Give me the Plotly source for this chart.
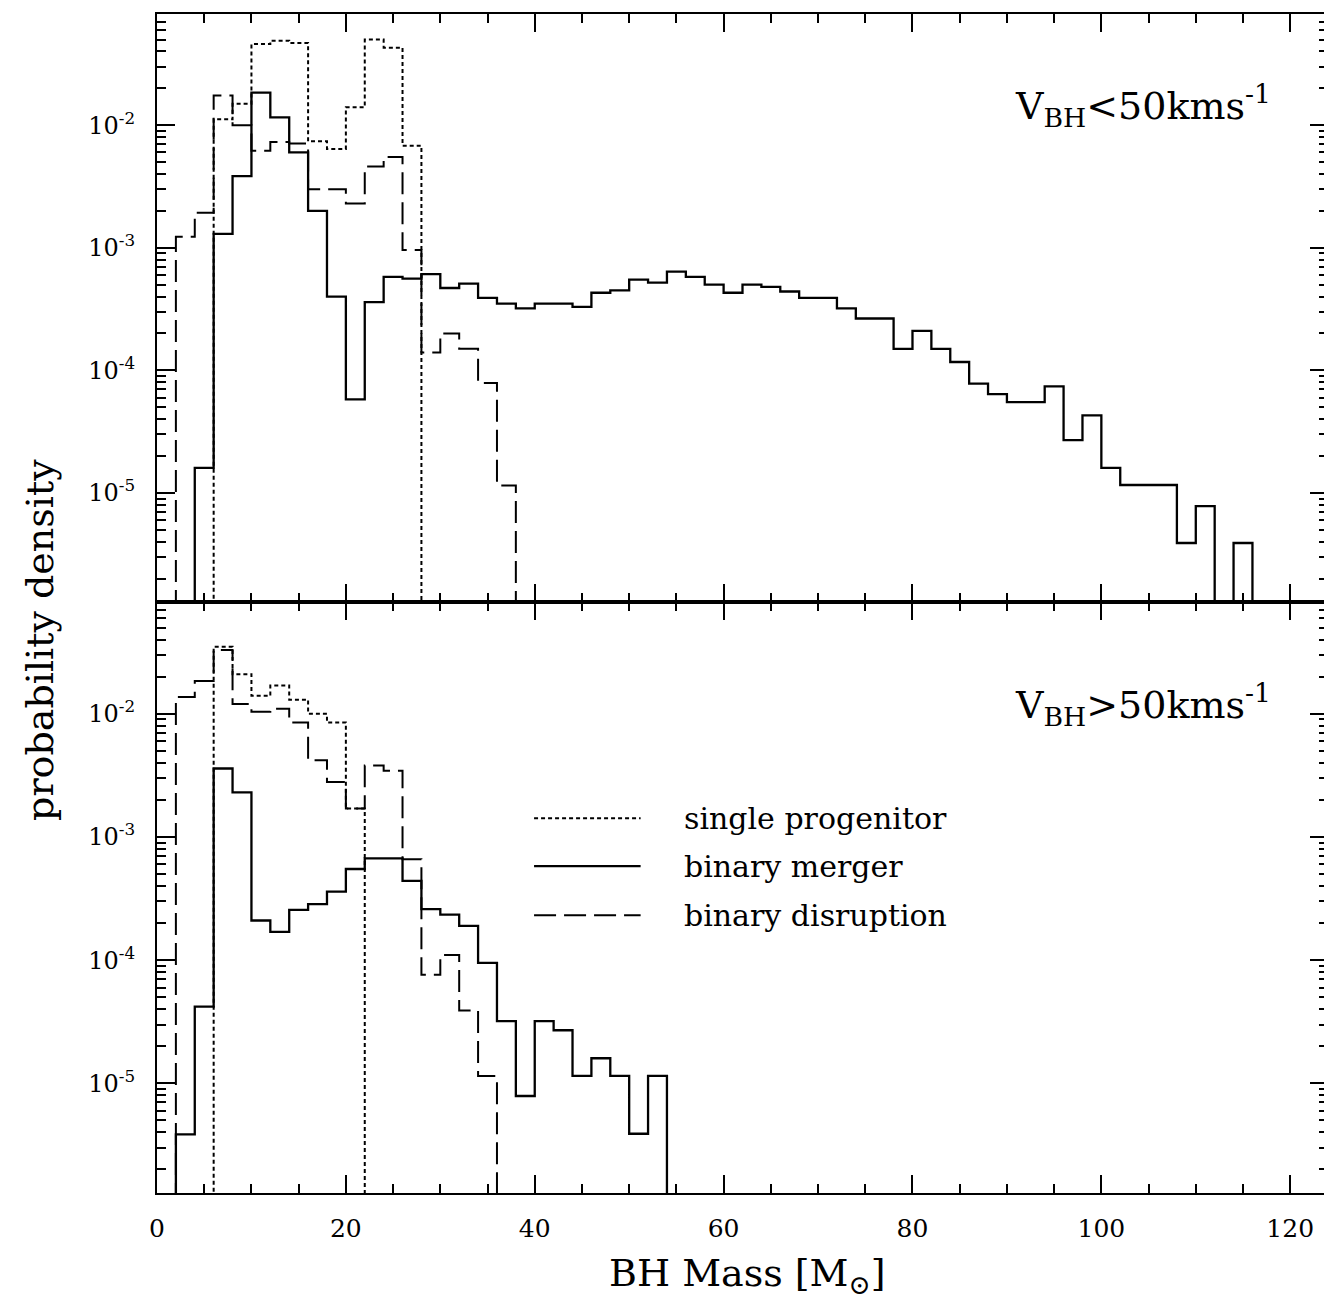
import plotly.graph_objects as go

# ---------------- data (bins of 2 Msun starting at 0) ----------------
BIN_WIDTH = 2.0

# V_BH < 50 km/s  (top panel)
LOW_SINGLE = [0, 0, 0, 1.12e-2, 1.5e-2, 4.6e-2, 4.9e-2, 4.7e-2, 7.4e-3, 6.4e-3,
              1.4e-2, 5.0e-2, 4.3e-2, 6.8e-3]
LOW_MERGER = [0, 0, 1.6e-5, 1.3e-3, 3.85e-3, 1.85e-2, 1.16e-2, 6.0e-3, 2.0e-3, 4.0e-4,
              5.8e-5, 3.6e-4, 5.8e-4, 5.6e-4, 6.1e-4, 4.7e-4, 5.1e-4, 3.9e-4, 3.5e-4, 3.2e-4,
              3.5e-4, 3.5e-4, 3.3e-4, 4.3e-4, 4.5e-4, 5.5e-4, 5.2e-4, 6.4e-4, 5.8e-4, 5.0e-4,
              4.3e-4, 5.0e-4, 4.8e-4, 4.4e-4, 3.9e-4, 3.9e-4, 3.2e-4, 2.65e-4, 2.65e-4, 1.5e-4,
              2.1e-4, 1.5e-4, 1.17e-4, 7.8e-5, 6.4e-5, 5.5e-5, 5.5e-5, 7.4e-5, 2.7e-5, 4.3e-5,
              1.6e-5, 1.16e-5, 1.16e-5, 1.16e-5, 3.9e-6, 7.8e-6, 0, 3.9e-6]
LOW_DISRUPT = [0, 1.23e-3, 1.93e-3, 1.75e-2, 1.0e-2, 6.2e-3, 7.3e-3, 7.1e-3, 3.0e-3, 3.0e-3,
               2.3e-3, 4.6e-3, 5.5e-3, 9.6e-4, 1.4e-4, 2.0e-4, 1.5e-4, 7.9e-5, 1.15e-5]

# V_BH > 50 km/s  (bottom panel)
HIGH_SINGLE = [0, 0, 0, 3.5e-2, 2.1e-2, 1.4e-2, 1.7e-2, 1.3e-2, 1.0e-2, 8.5e-3, 1.7e-3]
HIGH_MERGER = [0, 3.85e-6, 4.2e-5, 3.6e-3, 2.3e-3, 2.1e-4, 1.7e-4, 2.56e-4, 2.85e-4, 3.6e-4,
               5.5e-4, 6.7e-4, 6.7e-4, 4.4e-4, 2.6e-4, 2.34e-4, 1.9e-4, 9.5e-5, 3.2e-5, 7.9e-6,
               3.2e-5, 2.7e-5, 1.15e-5, 1.6e-5, 1.15e-5, 3.9e-6, 1.15e-5]
HIGH_DISRUPT = [0, 1.37e-2, 1.85e-2, 3.3e-2, 1.2e-2, 1.04e-2, 1.1e-2, 8.5e-3, 4.2e-3, 2.8e-3,
                1.7e-3, 3.8e-3, 3.45e-3, 6.6e-4, 7.6e-5, 1.1e-4, 3.9e-5, 1.15e-5]

Y_TICKS = [1e-2, 1e-3, 1e-4, 1e-5]
Y_TICKTEXT = ["10<sup>-2</sup>", "10<sup>-3</sup>", "10<sup>-4</sup>", "10<sup>-5</sup>"]
X_TICKS = [0, 20, 40, 60, 80, 100, 120]

LEGEND_LABELS = ["single progenitor", "binary merger", "binary disruption"]
PANEL_LABELS = ["V<sub>BH</sub>&lt;50kms<sup>-1</sup>", "V<sub>BH</sub>&gt;50kms<sup>-1</sup>"]

# ---------------- styles ----------------
FONT = "DejaVu Serif"
FLOOR = 1e-9  # empty bins are drawn below the visible range
STYLE_SINGLE = dict(color="black", width=2.0, dash="4px,3px", shape="hv")
STYLE_MERGER = dict(color="black", width=2.3, dash="solid", shape="hv")
STYLE_DISRUPT = dict(color="black", width=2.0, dash="22px,8px", shape="hv")


def step_xy(vals):
    xs = [i * BIN_WIDTH for i in range(len(vals) + 1)]
    ys = [v if v > 0 else FLOOR for v in vals] + [FLOOR]
    return xs, ys


fig = go.Figure()
panels = [
    ("x", "y", LOW_SINGLE, LOW_MERGER, LOW_DISRUPT),
    ("x2", "y2", HIGH_SINGLE, HIGH_MERGER, HIGH_DISRUPT),
]
for xa, ya, s, m, d in panels:
    for vals, st, name in [(s, STYLE_SINGLE, LEGEND_LABELS[0]),
                           (m, STYLE_MERGER, LEGEND_LABELS[1]),
                           (d, STYLE_DISRUPT, LEGEND_LABELS[2])]:
        xs, ys = step_xy(vals)
        fig.add_trace(go.Scatter(x=xs, y=ys, mode="lines", line=st, name=name,
                                 xaxis=xa, yaxis=ya, showlegend=False, hoverinfo="skip"))

minor_y = [m * 10.0 ** e for e in range(-7, 0) for m in range(2, 10)]

common_x = dict(range=[0, 124.0], showline=True, linecolor="black", linewidth=2,
                mirror="ticks", ticks="inside", ticklen=18, tickwidth=1.5, tickcolor="black",
                tickmode="array", tickvals=X_TICKS, showgrid=False, zeroline=False,
                minor=dict(ticks="inside", ticklen=9, dtick=5, tick0=0, tickwidth=1.5,
                           tickcolor="black", showgrid=False),
                tickfont=dict(family=FONT, size=25, color="black"))
common_y = dict(type="log", range=[-5.89, -1.092], showline=True, linecolor="black",
                linewidth=2, mirror="ticks", ticks="inside", ticklen=18, tickwidth=1.5,
                tickcolor="black", tickmode="array", tickvals=Y_TICKS, ticktext=Y_TICKTEXT,
                showgrid=False, zeroline=False, ticklabelstandoff=15,
                minor=dict(ticks="inside", ticklen=9, tickmode="array", tickvals=minor_y,
                           tickwidth=1.5, tickcolor="black", showgrid=False),
                tickfont=dict(family=FONT, size=24, color="black"))

# the page adds an 8px body margin, so the figure is sized to fit the 1332x1300 window
fig.update_layout(
    width=1324, height=1292,
    margin=dict(l=149, r=2, t=6, b=107),
    plot_bgcolor="white", paper_bgcolor="white",
    showlegend=False,
    xaxis=dict(common_x, domain=[0, 1], anchor="y", showticklabels=False),
    xaxis2=dict(common_x, domain=[0, 1], anchor="y2", showticklabels=True,
                ticklabelstandoff=12),
    yaxis=dict(common_y, domain=[0.5013, 1], anchor="x"),
    yaxis2=dict(common_y, domain=[0, 0.5013], anchor="x2"),
)

annotations = [
    dict(text=PANEL_LABELS[0], xref="x domain", yref="y domain", x=0.953, y=0.845,
         xanchor="right", yanchor="middle", showarrow=False,
         font=dict(family=FONT, size=38, color="black")),
    dict(text=PANEL_LABELS[1], xref="x2 domain", yref="y2 domain", x=0.953, y=0.826,
         xanchor="right", yanchor="middle", showarrow=False,
         font=dict(family=FONT, size=38, color="black")),
    dict(text="probability density", xref="paper", yref="paper", x=-0.1, y=0.469,
         xanchor="center", yanchor="middle", textangle=-90, showarrow=False,
         font=dict(family=FONT, size=38, color="black")),
    dict(text="BH Mass [M<sub>⊙</sub>]", xref="paper", yref="paper", x=0.504, y=-0.07,
         xanchor="center", yanchor="middle", showarrow=False,
         font=dict(family=FONT, size=38, color="black")),
]

# legend keys drawn inside the lower panel
legend_y = [0.634, 0.553, 0.470]
legend_dash = ["4px,3px", "solid", "22px,8px"]
shapes = []
for yy, dsh, lab in zip(legend_y, legend_dash, LEGEND_LABELS):
    shapes.append(dict(type="line", xref="x2 domain", yref="y2 domain",
                       x0=0.322, x1=0.413, y0=yy, y1=yy,
                       line=dict(color="black", width=2.2 if dsh == "solid" else 2.0, dash=dsh)))
    annotations.append(dict(text=lab, xref="x2 domain", yref="y2 domain", x=0.448, y=yy,
                            xanchor="left", yanchor="middle", showarrow=False,
                            font=dict(family=FONT, size=30, color="black")))

fig.update_layout(annotations=annotations, shapes=shapes)
fig.write_html("out.html")
